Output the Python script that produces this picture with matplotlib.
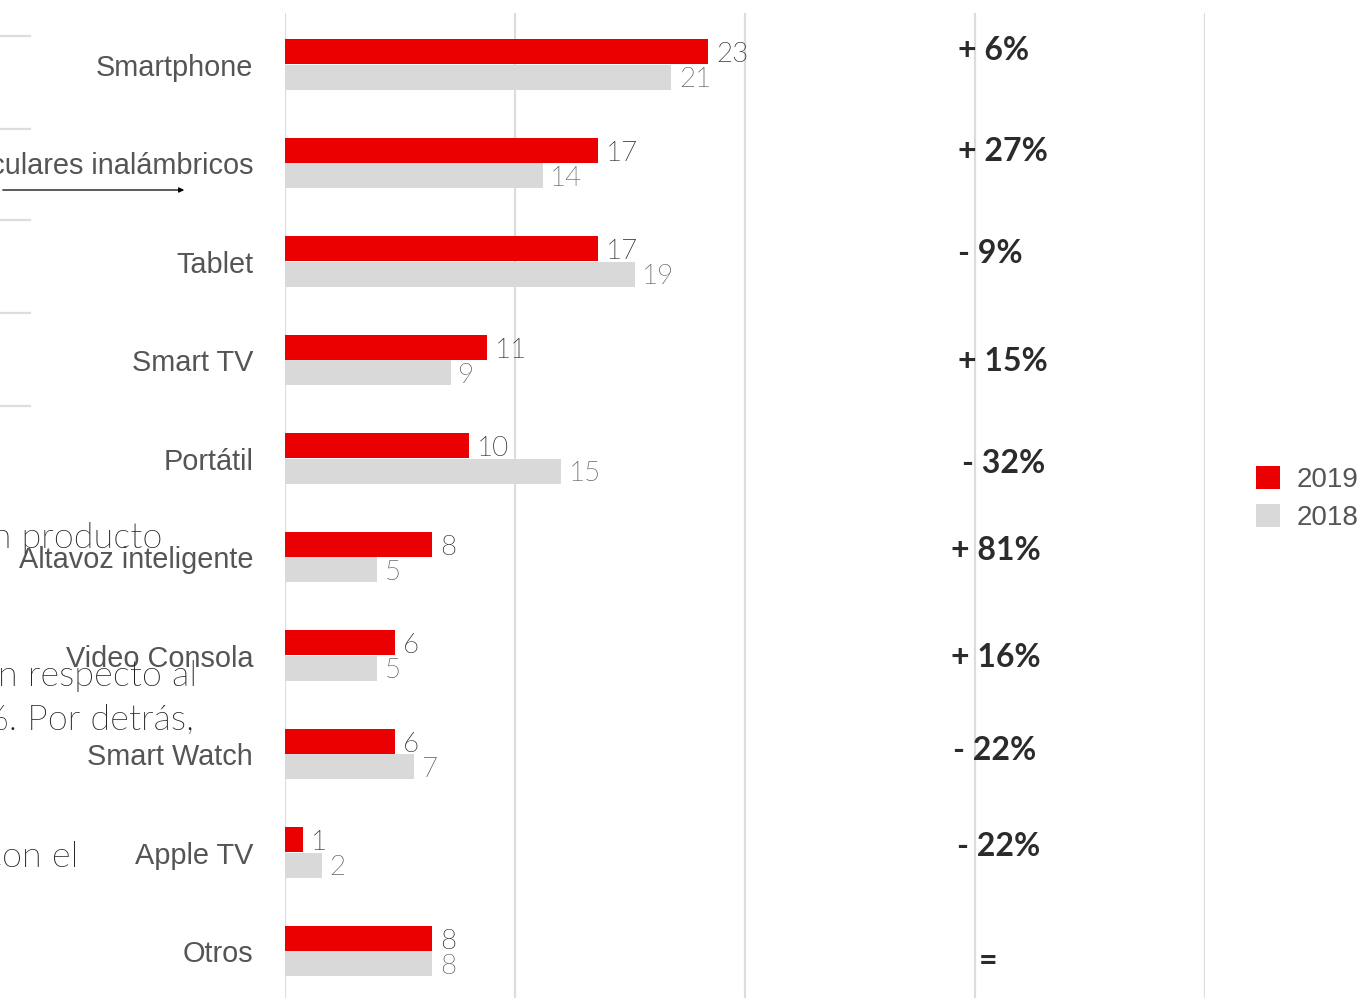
import matplotlib
matplotlib.use("Agg")
import matplotlib.pyplot as plt
from matplotlib import font_manager
from matplotlib.patches import Patch, FancyArrowPatch
from matplotlib.lines import Line2D

# ---------------- data ----------------
categories = ["Smartphone", "Auriculares inalámbricos", "Tablet", "Smart TV", "Portátil",
              "Altavoz inteligente", "Video Consola", "Smart Watch", "Apple TV", "Otros"]
values_2019 = [23, 17, 17, 11, 10, 8, 6, 6, 1, 8]
values_2018 = [21, 14, 19, 9, 15, 5, 5, 7, 2, 8]
labels_2019 = ["23", "17", "17", "11", "10", "8", "6", "6", "1", "8"]
labels_2018 = ["21", "14", "19", "9", "15", "5", "5", "7", "2", "8"]
change_labels = ["+ 6%", "+ 27%", "- 9%", "+ 15%", "- 32%", "+ 81%", "+ 16%", "- 22%", "- 22%", "="]
series_names = ["2019", "2018"]
grid_ticks = [0, 12.5, 25, 37.5, 50]
fragments = ["un producto", "con respecto al", "%. Por detrás,", "con el"]

# ---------------- layout / style ----------------
W, H, DPI = 1363, 998, 100
RED = "#ea0000"
GREY = "#d9d9d9"
change_x = [36.6, 36.6, 36.6, 36.6, 36.8, 36.2, 36.2, 36.3, 36.5, 37.7]
change_dy = [-0.14, -0.12, -0.08, 0.02, 0.05, -0.07, 0.02, -0.04, -0.06, 0.11]
frag_pos = [(162, 548), (197, 686), (194, 730), (78, 867)]


def lato_light(size):
    for f in font_manager.fontManager.ttflist:
        if f.name == "Lato" and ("Light" in f.fname) and ("Italic" not in f.fname):
            return font_manager.FontProperties(fname=f.fname, size=size)
    return font_manager.FontProperties(family="Lato", size=size)


fig = plt.figure(figsize=(W / DPI, H / DPI), dpi=DPI)
fig.patch.set_facecolor("white")

ax_left, ax_right = 285, 1205
ax_top, ax_bottom = 13, 998
ax = fig.add_axes([ax_left / W, 1 - ax_bottom / H, (ax_right - ax_left) / W, (ax_bottom - ax_top) / H])

n = len(categories)
ys = list(range(n))
off = 0.128
bh = 0.255
ax.barh([y - off for y in ys], values_2019, height=bh, color=RED, zorder=3)
ax.barh([y + off for y in ys], values_2018, height=bh, color=GREY, zorder=3)

ax.set_xlim(0, 50)
ax.set_ylim(9.477, -0.523)
for g in grid_ticks:
    ax.axvline(g, color="#dcdcdc", lw=1.6, zorder=1)

for s in ax.spines.values():
    s.set_visible(False)
ax.set_xticks([])
ax.set_yticks(ys)
ax.set_yticklabels(categories, fontsize=20.8, color="#555555", family="Liberation Sans")
ax.tick_params(axis="y", length=0, pad=23)

vprop = lato_light(20)
for y, v, lab in zip(ys, values_2019, labels_2019):
    ax.annotate(lab, (v, y - off), xytext=(5.5, -2), textcoords="offset points",
                va="center", ha="left", color="#1e1e1e", fontproperties=vprop)
for y, v, lab in zip(ys, values_2018, labels_2018):
    ax.annotate(lab, (v, y + off), xytext=(5.5, -2), textcoords="offset points",
                va="center", ha="left", color="#555555", fontproperties=vprop)

for y, lab, cx, dy in zip(ys, change_labels, change_x, change_dy):
    ax.text(cx, y + dy, lab, ha="left", va="center", fontsize=23, fontweight="bold",
            family="Lato", color="#2b2b2b")

# legend
handles = [Patch(facecolor=RED), Patch(facecolor=GREY)]
fig.legend(handles, series_names, loc="upper left",
           bbox_to_anchor=(1256 / W, 1 - 466 / H), frameon=False,
           labelcolor="#555555", prop={"family": "Liberation Sans", "size": 20},
           handlelength=0.88, handleheight=0.88, handletextpad=0.6, labelspacing=0.4,
           borderpad=0, borderaxespad=0)

# background page fragments
fprop = lato_light(26)
for txt, (rx, by) in zip(fragments, frag_pos):
    fig.text(rx / W, 1 - by / H, txt, ha="right", va="baseline",
             fontproperties=fprop, color="#1e1e1e")

for ty in [36, 129, 220, 313, 406]:
    fig.add_artist(Line2D([0, 30 / W], [1 - ty / H, 1 - ty / H], color="#dddddd", lw=1.6))

fig.add_artist(FancyArrowPatch(
    (0, 1 - 190 / H), (187 / W, 1 - 190 / H), transform=fig.transFigure,
    arrowstyle="-|>,head_length=3,head_width=1.5", color="black", lw=0.9))

fig.savefig("out.png", dpi=DPI, facecolor="white")
